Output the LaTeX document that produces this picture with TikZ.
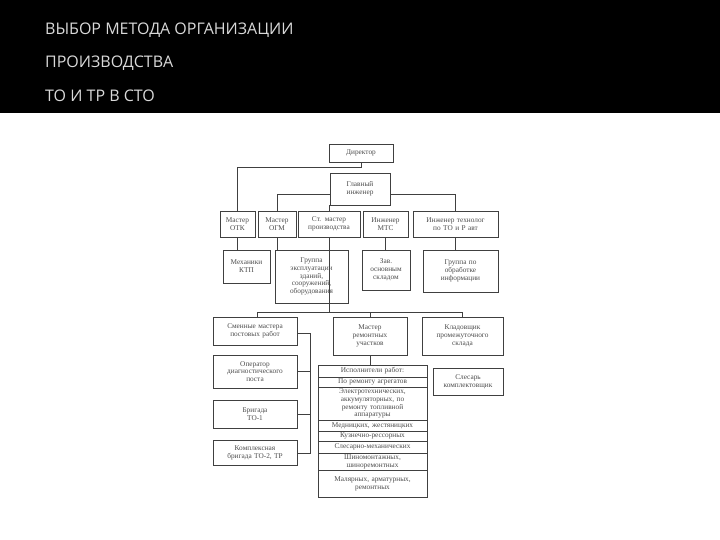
\documentclass[tikz,border=0pt]{standalone}
\usepackage{fontspec}
\setmainfont{Liberation Serif}
\newfontfamily\titlefont{Open Sans}
\tikzset{box/.style={draw=black!75,line width=0.6pt,inner sep=0pt,align=center,font=\fontsize{7.3}{7.8}\selectfont,text=black!70},
ln/.style={draw=black!75,line width=0.6pt}}
\newcommand\bx[6]{%
\pgfmathsetmacro\cx{(#2+#4)/2}\pgfmathsetmacro\cy{(#3+#5)/2}%
\pgfmathsetmacro\ww{#4-#2}\pgfmathsetmacro\hh{#5-#3}%
\node[box,minimum width=\ww pt,minimum height=\hh pt,text width=\ww pt-1pt] (#1) at (\cx,\cy) {#6};}
\begin{document}
\begin{tikzpicture}[x=1pt,y=-1pt]
\useasboundingbox (0,0) rectangle (720,540);
\fill[black] (0,0) rectangle (720,113);
\tikzset{ttl/.style={anchor=west,text=white!85!black,font=\titlefont\fontsize{16}{16}\selectfont,inner sep=0}}
\node[ttl] (t1) at (45,30) {ВЫБОР МЕТОДА ОРГАНИЗАЦИИ};
\node[ttl] (t2) at (45,63) {ПРОИЗВОДСТВА};
\node[ttl] (t3) at (45,96) {ТО И ТР В СТО};
\bx{dir}{329}{144}{393}{162}{Директор}
\bx{gi}{330}{173}{390}{205}{Главный\\инженер}
\bx{otk}{220}{211}{255}{237}{Мастер\\ОТК}
\bx{ogm}{258}{211}{296}{237}{Мастер\\ОГМ}
\bx{stm}{298}{211}{360}{237}{Ст. мастер\\производства}
\bx{mts}{363}{211}{408}{237}{Инженер\\МТС}
\bx{tech}{413}{211}{498}{237}{Инженер технолог\\по ТО и Р авт}
\bx{ktp}{223}{250}{270}{283}{Механики\\КТП}
\bx{gre}{275}{250}{348}{303}{Группа\\эксплуатации\\зданий,\\сооружений,\\оборудования}
\bx{zav}{362}{250}{410}{290}{Зав.\\основным\\складом}
\bx{gri}{423}{250}{498}{292}{Группа по\\обработке\\информации}
\bx{smen}{213}{317}{297}{345}{Сменные мастера\\постовых работ}
\bx{mru}{333}{317}{407}{355}{Мастер\\ремонтных\\участков}
\bx{klad}{422}{317}{503}{355}{Кладовщик\\промежуточного\\склада}
\bx{oper}{213}{355}{297}{388}{Оператор\\диагностического\\поста}
\bx{to1}{213}{400}{297}{428}{Бригада\\ТО-1}
\bx{to2}{213}{440}{297}{465}{Комплексная\\бригада ТО-2, ТР}
\bx{sles}{433}{368}{503}{395}{Слесарь\\комплектовщик}
\bx{r1}{318}{365}{427}{377}{Исполнители работ:}
\bx{r2}{318}{377}{427}{387}{По ремонту агрегатов}
\bx{r3}{318}{387}{427}{420}{Электротехнических,\\аккумуляторных, по\\ремонту топливной\\аппаратуры}
\bx{r4}{318}{420}{427}{431}{Медницких, жестяницких}
\bx{r5}{318}{431}{427}{441}{Кузнечно-рессорных}
\bx{r6}{318}{441}{427}{453}{Слесарно-механических}
\bx{r7}{318}{453}{427}{470}{Шиномонтажных,\\шиноремонтных}
\bx{r8}{318}{470}{427}{497}{Малярных, арматурных,\\ремонтных}
% connectors
\draw[ln] (dir.south) -- ++(0,5) -| (otk.north);
\draw[ln] (gi.west) ++(0,5) coordinate (gl) -| (ogm.north);
\draw[ln] (gi.east) ++(0,5) coordinate (gr) -| (tech.north);
\draw[ln] (gi.south -| stm.north) -- (stm.north);
\draw[ln] (otk.south) -- (otk.south |- ktp.north);
\draw[ln] (ogm.south) -- (ogm.south |- gre.north);
\draw[ln] (mts.south) -- (mts.south |- zav.north);
\draw[ln] (tech.south) -- (tech.south |- gri.north);
\draw[ln] (stm.south) -- ++(0,75) coordinate (hb);
\draw[ln] (hb -| smen.north east) ++(-40,0) coordinate (hl) -- (hl |- smen.north);
\draw[ln] (hl) -| (klad.north);
\draw[ln] (hb) -| (mru.north);
\draw[ln] (mru.south) -- (mru.south |- r1.north);
\coordinate (br) at (310,333);
\draw[ln] (smen.east |- br) -- (br) -- (310,453) -- (to2.east |- 0,453);
\draw[ln] (oper.east) -- (oper.east -| br);
\draw[ln] (to1.east) -- (to1.east -| br);
\end{tikzpicture}
\end{document}
